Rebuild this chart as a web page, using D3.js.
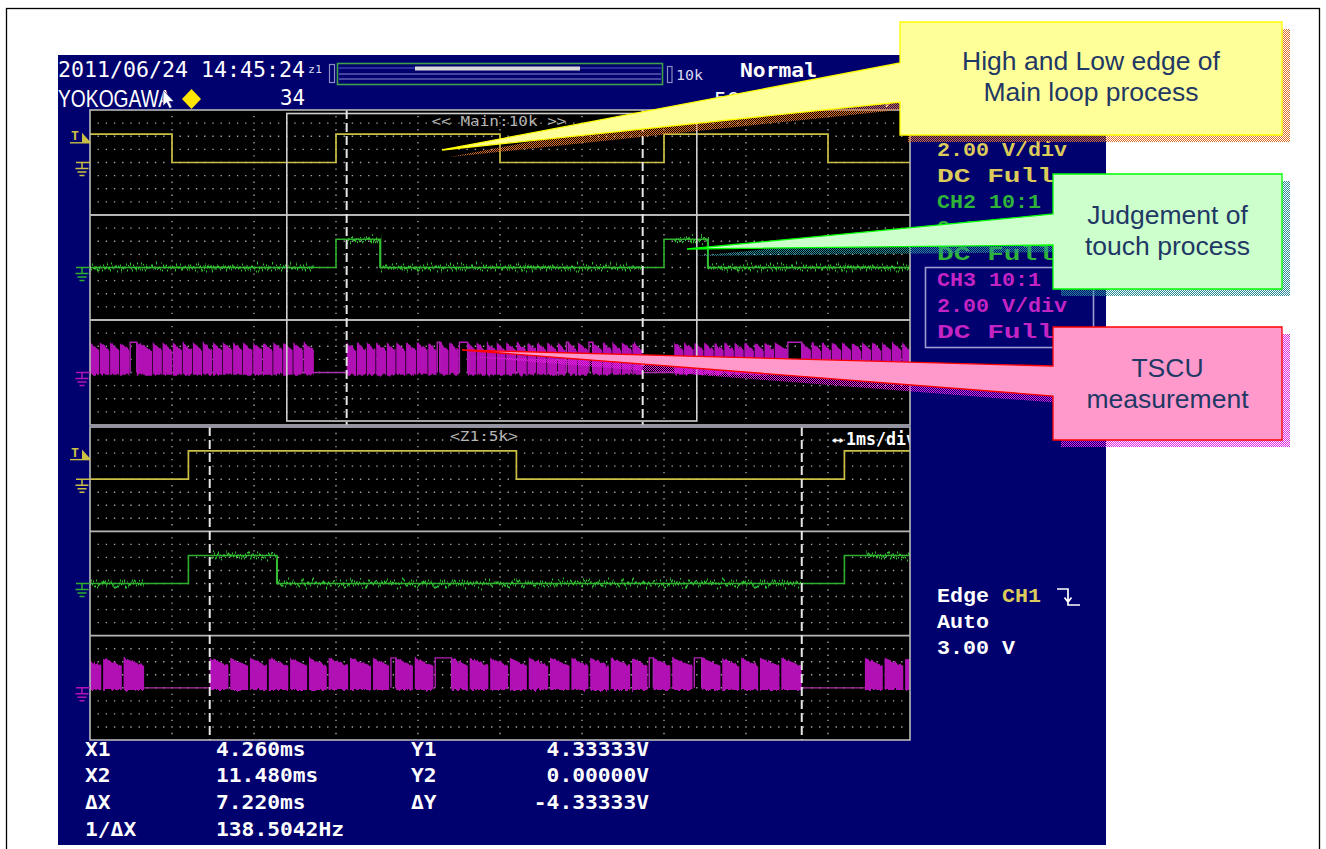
<!DOCTYPE html>
<html>
<head>
<meta charset="utf-8">
<script src="https://cdn.jsdelivr.net/npm/d3@7"></script>
<style>
  html, body { margin: 0; padding: 0; background: #fff; }
  svg { display: block; }
</style>
</head>
<body>
<svg id="chart" width="1326" height="849"></svg>
<script>
// ---------- acquisition (time in ms from trigger, levels in volts) ----------
const mainSpan = [-2, 18];          // main record, 2 ms/div
const zoomSpan = [2.8, 12.8];       // Z1 window, 1 ms/div
const cursorTimes = [4.26, 11.48];  // X1, X2
const triggerLevel = 3.00;

const ch1Edges = [0, 4, 8, 12, 16];                 // CH1 toggles, high before first edge
const ch1Levels = [0, 4.33333];
const ch2Pulses = [[4.0, 5.08], [12.0, 13.07]];     // CH2 high spans
const ch2Levels = [0, 4.30];
const ch3Bursts = [[-2, 3.46], [4.26, 11.48], [12.25, 18]];   // TSCU activity
const ch3FrameStarts = [
  -2.00, -1.76, -1.51, -1.27, -0.86, -0.47, -0.23, 0.02, 0.26, 0.51, 0.75, 1.00,
  1.24, 1.49, 1.73, 1.98, 2.22, 2.47, 2.71, 2.96, 3.21,
  4.26, 4.51, 4.75, 4.98, 5.24, 5.47, 5.71, 5.97, 6.25, 6.53, 6.76, 7.21, 7.43,
  7.68, 7.92, 8.15, 8.41, 8.67, 8.90, 9.15, 9.41, 9.67, 9.90, 10.26, 10.51,
  10.74, 10.97, 11.23,
  12.25, 12.49, 12.74, 12.98, 13.23, 13.47, 13.72, 13.96, 14.21, 14.45, 14.70,
  15.36, 15.60, 15.85, 16.09, 16.34, 16.58, 16.83, 17.07, 17.32, 17.56, 17.81
];
const ch3Dropouts = [[-1.02, -0.86], [6.47, 6.53], [7.01, 7.21], [9.62, 9.67], [10.17, 10.26], [15.02, 15.36]];
const ch3Envelope = [4.6, 3.4, -0.35];   // top at frame start, top at frame end, floor

// ---------- readouts ----------
const headerDate = "2011/06/24 14:45:24";
const brand = "YOKOGAWA";
const acqCount = "34";
const trigMode = "Normal";
const sampleRate = "500kS/s";
const mainTdiv = "2ms/div";
const recLen = "10k";
const mainTag = "<< Main:10k >>";
const zoomTag = "<Z1:5k>";
const zoomTdiv = "1ms/div";
const chanLabels = ["CH1 10:1", "CH2 10:1", "CH3 10:1"];
const chanScale = ["2.00 V/div", "2.00 V/div", "2.00 V/div"];
const chanCoupling = ["DC   Full", "DC   Full", "DC   Full"];
const trigInfo = ["Edge", "CH1", "Auto"];
const xCursorLabels = ["X1", "X2", "\u0394X", "1/\u0394X"];
const yCursorLabels = ["Y1", "Y2", "\u0394Y"];

const calloutText = [
  ["High and Low edge of", "Main loop process"],
  ["Judgement of", "touch process"],
  ["TSCU", "measurement"]
];

// ---------- drawing ----------
const svg = d3.select("#chart");
const defs = svg.append("defs");
const MONO = "'DejaVu Sans Mono', 'Liberation Mono', monospace";
const COUR = "'Liberation Mono', 'DejaVu Sans Mono', monospace";
const SANS = "'Liberation Sans', Arial, sans-serif";
const chanColor = ["#cbc044", "#2eb02e", "#b414b4"];
const textColor = ["#dccb5a", "#2fb43a", "#c424c4"];

function label(g, x, y, str, o = {}) {
  const t = g.append("text").attr("x", x).attr("y", y).text(str)
    .attr("font-family", o.family || MONO)
    .attr("font-size", o.size || 20)
    .attr("font-weight", o.weight || "bold")
    .attr("fill", o.fill || "#fff")
    .attr("text-anchor", o.anchor || "start");
  if (o.len) t.attr("textLength", o.len).attr("lengthAdjust", "spacingAndGlyphs");
  return t;
}

// dithered shadow fills
function dither(id, color) {
  const p = defs.append("pattern").attr("id", id).attr("width", 2).attr("height", 2)
    .attr("patternUnits", "userSpaceOnUse");
  p.append("rect").attr("width", 1).attr("height", 1).attr("fill", color);
  p.append("rect").attr("x", 1).attr("y", 1).attr("width", 1).attr("height", 1).attr("fill", color);
}
dither("shY", "#e0702a");
dither("shG", "#2a8c9a");
dither("shP", "#e020e0");

// vertical-only jitter used for noisy traces
function jitter(id, freq, scale, seed) {
  const f = defs.append("filter").attr("id", id).attr("filterUnits", "userSpaceOnUse")
    .attr("x", 60).attr("y", 90).attr("width", 880).attr("height", 680)
    .attr("color-interpolation-filters", "sRGB");
  f.append("feTurbulence").attr("type", "fractalNoise").attr("baseFrequency", freq)
    .attr("numOctaves", 2).attr("seed", seed).attr("result", "n");
  f.append("feColorMatrix").attr("in", "n").attr("type", "matrix")
    .attr("values", "0 0 0 0 0.5  0 1 0 0 0  0 0 0 0 0  0 0 0 0 1").attr("result", "m");
  f.append("feDisplacementMap").attr("in", "SourceGraphic").attr("in2", "m")
    .attr("scale", scale).attr("xChannelSelector", "R").attr("yChannelSelector", "G");
}
jitter("noiseG", "0.8 0.03", 17, 4);
jitter("noiseM", "0.35 0.006", 6, 9);

// page, frame and instrument background
svg.append("rect").attr("width", 1326).attr("height", 849).attr("fill", "#fff");
svg.append("rect").attr("x", 6.5).attr("y", 8.5).attr("width", 1313).attr("height", 860)
  .attr("fill", "none").attr("stroke", "#000").attr("stroke-width", 1.3);
svg.append("rect").attr("x", 58).attr("y", 55).attr("width", 1048).attr("height", 790).attr("fill", "#00006e");

// ---------- header ----------
const hdr = svg.append("g");
label(hdr, 58, 77, headerDate, { size: 22, weight: "normal", len: 247 });
label(hdr, 308, 73, "z1", { size: 10, weight: "normal", len: 14, fill: "#d8d8f0" });
hdr.append("rect").attr("x", 329.5).attr("y", 64.5).attr("width", 5).attr("height", 18)
  .attr("fill", "none").attr("stroke", "#8c8cc0").attr("stroke-width", 1.2);
hdr.append("rect").attr("x", 337.5).attr("y", 63.5).attr("width", 325).attr("height", 21)
  .attr("fill", "none").attr("stroke", "#3ea04a").attr("stroke-width", 1.6);
hdr.append("line").attr("x1", 339).attr("x2", 661).attr("y1", 68).attr("y2", 68).attr("stroke", "#3a3aa8").attr("stroke-width", 1.5);
hdr.append("rect").attr("x", 415).attr("y", 66.5).attr("width", 165).attr("height", 4).attr("fill", "#d9d9d9");
[74, 79].forEach(yy => hdr.append("line").attr("x1", 339).attr("x2", 661).attr("y1", yy).attr("y2", yy)
  .attr("stroke", "#8a8ad0").attr("stroke-width", 1.1));
hdr.append("rect").attr("x", 667.5).attr("y", 66.5).attr("width", 4.5).attr("height", 16)
  .attr("fill", "none").attr("stroke", "#8c8cc0").attr("stroke-width", 1.2);
label(hdr, 676, 80, recLen, { size: 14, weight: "normal", len: 27, fill: "#d8d8f0" });
label(hdr, 740, 77, trigMode, { size: 20, len: 77 });
label(hdr, 58, 107, brand, { family: SANS, size: 24, weight: "normal", len: 113 });
hdr.append("path").attr("d", "M191.5,89 L201,99 L191.5,109 L182,99 Z").attr("fill", "#ffe600");
hdr.append("path").attr("d", "M163,90 L163,106 L166.5,102.5 L169.5,108.5 L172,107.3 L169,101.5 L174,101.5 Z")
  .attr("fill", "#fff").attr("stroke", "#00006e").attr("stroke-width", 0.6);
label(hdr, 280, 105, acqCount, { size: 21, weight: "normal", len: 25 });
label(hdr, 714, 106, sampleRate, { size: 20, weight: "normal", len: 91 });
label(hdr, 845, 105, mainTdiv, { size: 20, weight: "normal", len: 91 });

// ---------- waveform screens ----------
const screens = [
  { span: mainSpan, top: 110, bottom: 425, gap: 0.7 },
  { span: zoomSpan, top: 427, bottom: 740, gap: 1.8 }
];

screens.forEach((s, si) => {
  const g = svg.append("g");
  const x = d3.scaleLinear().domain(s.span).range([90, 910]);
  const bandH = (s.bottom - s.top) / 3;
  const y = [0, 1, 2].map(k => d3.scaleLinear().domain([-8, 8])
    .range([s.top + (k + 1) * bandH, s.top + k * bandH]));
  const divW = (x.range()[1] - x.range()[0]) / 10;

  g.append("rect").attr("x", 90).attr("y", s.top).attr("width", 820).attr("height", s.bottom - s.top).attr("fill", "#000");

  // dotted graticule: 10 x 8 divisions in every band
  let p = "";
  for (let k = 0; k < 3; k++) {
    const y0 = s.top + k * bandH, dv = bandH / 8;
    for (let r = 1; r < 8; r++) {
      const yy = y0 + r * dv;
      for (let j = 1; j < 100; j++) {
        if (j % 10 === 0) continue;
        const xx = 90 + j * divW / 10;
        p += `M${(xx - 0.7).toFixed(1)},${(yy - 0.7).toFixed(1)}h1.4v1.4h-1.4z`;
      }
    }
    for (let c = 1; c < 10; c++) {
      const xx = 90 + c * divW;
      for (let r = 1; r < 16; r++) {
        const yy = y0 + r * dv / 2;
        p += `M${(xx - 0.7).toFixed(1)},${(yy - 0.7).toFixed(1)}h1.4v1.4h-1.4z`;
      }
    }
  }
  g.append("path").attr("d", p).attr("fill", "#a2a2a2");

  // band separators
  [1, 2].forEach(k => g.append("line").attr("x1", 90).attr("x2", 910)
    .attr("y1", s.top + k * bandH).attr("y2", s.top + k * bandH)
    .attr("stroke", "#b6b6b6").attr("stroke-width", 1.8));

  const clipId = "scr" + si;
  defs.append("clipPath").attr("id", clipId).append("rect")
    .attr("x", 90).attr("y", s.top).attr("width", 820).attr("height", s.bottom - s.top);
  const tr = g.append("g").attr("clip-path", `url(#${clipId})`);

  // CH1
  const ch1Pts = [[mainSpan[0], ch1Levels[1]]];
  ch1Edges.forEach((t, i) => ch1Pts.push([t, i % 2 === 0 ? ch1Levels[0] : ch1Levels[1]]));
  ch1Pts.push([mainSpan[1], ch1Pts[ch1Pts.length - 1][1]]);
  const step1 = d3.line().curve(d3.curveStepAfter).x(d => x(d[0])).y(d => y[0](d[1]));
  tr.append("path").attr("d", step1(ch1Pts)).attr("fill", "none")
    .attr("stroke", chanColor[0]).attr("stroke-width", 1.7);

  // CH2
  const ch2Pts = [[mainSpan[0], ch2Levels[0]]];
  ch2Pulses.forEach(([a, b]) => { ch2Pts.push([a, ch2Levels[1]]); ch2Pts.push([b, ch2Levels[0]]); });
  ch2Pts.push([mainSpan[1], ch2Levels[0]]);
  const step2 = d3.line().curve(d3.curveStepAfter).x(d => x(d[0])).y(d => y[1](d[1]));
  const ch2d = step2(ch2Pts);
  tr.append("path").attr("d", ch2d).attr("fill", "none").attr("stroke", chanColor[1]).attr("stroke-width", 1.6);
  // noise picked up while the TSCU is scanning
  const nClip = "n" + si;
  const nc = defs.append("clipPath").attr("id", nClip);
  ch3Bursts.forEach(([a, b]) => nc.append("rect").attr("x", x(a)).attr("y", s.top + bandH)
    .attr("width", x(b) - x(a)).attr("height", bandH));
  tr.append("g").attr("clip-path", `url(#${nClip})`).append("path").attr("d", ch2d)
    .attr("fill", "none").attr("stroke", "#33c033").attr("stroke-width", 2).attr("filter", "url(#noiseG)");

  // CH3 idle baseline between bursts
  let idle = "";
  for (let i = 0; i < ch3Bursts.length - 1; i++) {
    idle += `M${x(ch3Bursts[i][1])},${y[2](0)}H${x(ch3Bursts[i + 1][0])}`;
  }
  tr.append("path").attr("d", idle).attr("fill", "none").attr("stroke", "#a832a8").attr("stroke-width", 1.3);

  // CH3 scan frames
  const area = d3.area().x(d => x(d[0])).y0(y[2](ch3Envelope[2])).y1(d => y[2](d[1]));
  let frames = "";
  ch3Bursts.forEach(([a, b]) => {
    const st = ch3FrameStarts.filter(t => t >= a && t < b);
    st.forEach((t0, i) => {
      const next = i + 1 < st.length ? st[i + 1] : b;
      const drop = ch3Dropouts.find(d => d[0] > t0 && d[0] < next);
      let e = drop ? drop[0] : next;
      if (e < b) e = x.invert(x(e) - s.gap);
      if (e <= t0) return;
      frames += area([[t0, ch3Envelope[0]], [e, ch3Envelope[1]]]);
    });
  });
  tr.append("path").attr("d", frames).attr("fill", "#b010b4").attr("filter", "url(#noiseM)");
  let drops = "";
  ch3Dropouts.forEach(([a, b]) => {
    drops += `M${x(a)},${y[2](0)}V${y[2](ch3Envelope[0])}H${x(b)}V${y[2](0)}`;
  });
  tr.append("path").attr("d", drops).attr("fill", "none").attr("stroke", "#b020b4").attr("stroke-width", 1.4);

  // zoom window drawn on the main record
  if (si === 0) {
    g.append("rect").attr("x", x(zoomSpan[0])).attr("y", s.top + 3.5)
      .attr("width", x(zoomSpan[1]) - x(zoomSpan[0])).attr("height", s.bottom - s.top - 7.5)
      .attr("fill", "none").attr("stroke", "#cfcfcf").attr("stroke-width", 1.6);
    label(g, 499, 126, mainTag, { size: 14, weight: "normal", anchor: "middle", len: 135, fill: "#b4b4b4" });
  } else {
    label(g, 450, 441, zoomTag, { size: 14, weight: "normal", len: 68, fill: "#b4b4b4" });
    const tg = g.append("g").attr("clip-path", `url(#${clipId})`);
    label(tg, 832, 444, "\u2194", { size: 13, weight: "bold", len: 12 });
    label(tg, 846, 445, zoomTdiv, { size: 18, weight: "bold", len: 70 });
  }

  // cursors
  cursorTimes.forEach(t => g.append("line").attr("x1", x(t)).attr("x2", x(t))
    .attr("y1", s.top).attr("y2", s.bottom).attr("stroke", "#e6e6e6")
    .attr("stroke-width", 2).attr("stroke-dasharray", "9,4"));

  g.append("rect").attr("x", 90).attr("y", s.top).attr("width", 820).attr("height", s.bottom - s.top)
    .attr("fill", "none").attr("stroke", "#b8b8b8").attr("stroke-width", 1.6);

  // ground and trigger markers
  [0, 1, 2].forEach(k => {
    const gy = y[k](0);
    g.append("path")
      .attr("d", `M76,${gy}H90M82,${gy}V${gy + 6}M75.5,${gy + 6}H88.5M77.5,${gy + 9.5}H86.5M79.5,${gy + 13}H84.5`)
      .attr("fill", "none").attr("stroke", chanColor[k]).attr("stroke-width", 1.5);
  });
  const ty = y[0](triggerLevel);
  label(g, 71, ty - 2.5, "T", { size: 12, weight: "bold", fill: chanColor[0], len: 8 });
  g.append("path").attr("d", `M70,${ty}H90`).attr("stroke", chanColor[0]).attr("stroke-width", 1.4);
  g.append("path").attr("d", `M82,${ty - 10}L91,${ty}L82,${ty}Z`).attr("fill", chanColor[0]);
});

// ---------- channel and trigger settings ----------
const side = svg.append("g");
chanLabels.forEach((lab, k) => {
  const b = 130 + k * 78;
  label(side, 937, b, lab, { family: COUR, size: 21, fill: textColor[k], len: lab.length * 13 });
  label(side, 937, b + 26, chanScale[k], { family: COUR, size: 21, fill: textColor[k], len: chanScale[k].length * 13 });
  label(side, 937, b + 52, chanCoupling[k], { family: COUR, size: 21, fill: textColor[k], len: chanCoupling[k].length * 13 });
});
side.append("rect").attr("x", 925.5).attr("y", 267.5).attr("width", 168).attr("height", 80)
  .attr("fill", "none").attr("stroke", "#9c9cd2").attr("stroke-width", 1.6);

label(side, 937, 602, trigInfo[0], { family: COUR, size: 21, len: 52 });
label(side, 1002, 602, trigInfo[1], { family: COUR, size: 21, fill: textColor[0], len: 39 });
side.append("path").attr("d", "M1057,589H1068V605H1080M1068,592V601M1064.5,597.5L1068,602L1071.5,597.5")
  .attr("fill", "none").attr("stroke", "#fff").attr("stroke-width", 1.7);
label(side, 937, 628, trigInfo[2], { family: COUR, size: 21, len: 52 });
label(side, 937, 654, `${triggerLevel.toFixed(2)} V`, { family: COUR, size: 21, len: 78 });

// ---------- cursor readout ----------
const dX = cursorTimes[1] - cursorTimes[0];
const xVals = [`${cursorTimes[0].toFixed(3)}ms`, `${cursorTimes[1].toFixed(3)}ms`, `${dX.toFixed(3)}ms`, `${(1000 / dX).toFixed(4)}Hz`];
const yVals = [`${ch1Levels[1].toFixed(5)}V`, `${ch1Levels[0].toFixed(5)}V`, `${(ch1Levels[0] - ch1Levels[1]).toFixed(5)}V`];
const ro = svg.append("g");
const rowY = [756, 782, 809, 836];
xCursorLabels.forEach((l, i) => {
  label(ro, 85, rowY[i], l, { size: 19, len: l.length * 12.8 });
  label(ro, 216, rowY[i], xVals[i], { size: 19, len: xVals[i].length * 12.8 });
});
yCursorLabels.forEach((l, i) => {
  label(ro, 411, rowY[i], l, { size: 19, len: l.length * 12.8 });
  label(ro, 649, rowY[i], yVals[i], { size: 19, anchor: "end", len: yVals[i].length * 12.8 });
});

// ---------- callouts ----------
const callouts = [
  { box: [900, 22, 1282, 135], attach: [63, 102], tip: [442, 150], fill: "#ffff99", stroke: "#ffff00", shadow: "shY", base: 70 },
  { box: [1053, 174, 1282, 289], attach: [214, 245], tip: [687, 249], fill: "#ccffcc", stroke: "#00ff00", shadow: "shG", base: 224 },
  { box: [1053, 327, 1282, 440], attach: [366, 396], tip: [462, 350], fill: "#ff99cc", stroke: "#ff0000", shadow: "shP", base: 377 }
];
const co = svg.append("g");
callouts.forEach((c, i) => {
  const [x0, y0, x1, y1] = c.box;
  const d = `M${x0},${y0}H${x1}V${y1}H${x0}V${c.attach[1]}L${c.tip[0]},${c.tip[1]}L${x0},${c.attach[0]}Z`;
  co.append("path").attr("d", d).attr("transform", "translate(8,7)").attr("fill", `url(#${c.shadow})`);
  co.append("path").attr("d", d).attr("fill", c.fill).attr("stroke", c.stroke).attr("stroke-width", 1.3);
  calloutText[i].forEach((t, j) => label(co, (x0 + x1) / 2, c.base + j * 31, t,
    { family: SANS, size: 26.5, weight: "normal", anchor: "middle", fill: "#1f3864" }));
});
</script>
</body>
</html>
